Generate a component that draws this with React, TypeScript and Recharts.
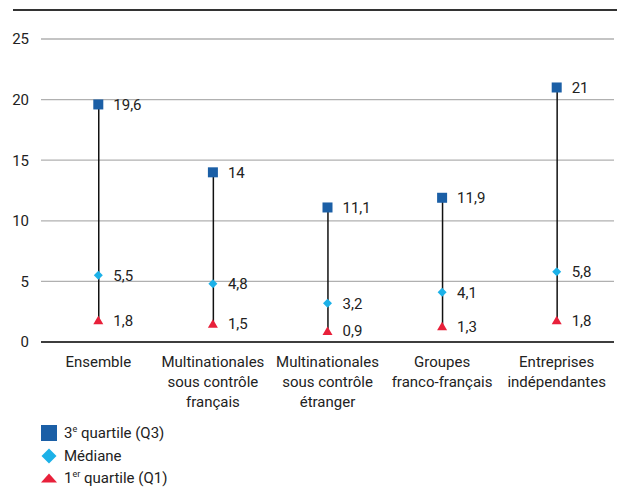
import React from 'react';
import { ComposedChart, Bar, Line, XAxis, YAxis, CartesianGrid, LabelList } from 'recharts';

const categories = [
  'Ensemble',
  'Multinationales\nsous contrôle\nfrançais',
  'Multinationales\nsous contrôle\nétranger',
  'Groupes\nfranco-français',
  'Entreprises\nindépendantes',
];
const q3Values = [19.6, 14, 11.1, 11.9, 21];
const medianValues = [5.5, 4.8, 3.2, 4.1, 5.8];
const q1Values = [1.8, 1.5, 0.9, 1.3, 1.8];
const yTicks = [0, 5, 10, 15, 20, 25];

const FONT = 'Roboto, "Liberation Sans", sans-serif';
const TEXT = '#222';
const Q3_COLOR = '#1b5fa6';
const MED_COLOR = '#1cb1e8';
const Q1_COLOR = '#e8203a';

const data = categories.map((name, i) => ({
  name,
  q3: q3Values[i],
  med: medianValues[i],
  q1: q1Values[i],
  range: [q1Values[i], q3Values[i]],
}));

const fmt = (v: any) => String(v).replace('.', ',');

function CategoryTick({ x, y, payload }: any) {
  const lines = String(payload.value).split('\n');
  return (
    <text x={x} y={y} textAnchor="middle" fill={TEXT} fontSize={15} fontFamily={FONT}>
      {lines.map((l, i) => (
        <tspan key={i} x={x} dy={i === 0 ? 25 : 20}>{l}</tspan>
      ))}
    </text>
  );
}

const square = (p: any) => (
  <rect key={`sq-${p.index}`} x={p.cx - 5} y={p.cy - 5} width={10} height={10} fill={Q3_COLOR} />
);
const diamond = (p: any) => (
  <path key={`di-${p.index}`} d={`M${p.cx},${p.cy - 4.5} L${p.cx + 4.5},${p.cy} L${p.cx},${p.cy + 4.5} L${p.cx - 4.5},${p.cy} Z`} fill={MED_COLOR} />
);
const triangle = (p: any) => (
  <path key={`tr-${p.index}`} d={`M${p.cx},${p.cy - 4.5} L${p.cx + 5},${p.cy + 4} L${p.cx - 5},${p.cy + 4} Z`} fill={Q1_COLOR} />
);

const labelStyle = { fill: TEXT, fontSize: 15, fontFamily: FONT };

function LegendRow({ marker, children }: { marker: React.ReactNode; children: React.ReactNode }) {
  return (
    <div style={{ display: 'flex', alignItems: 'center', height: 22.5 }}>
      <svg width={16} height={16} style={{ marginRight: 7 }}>{marker}</svg>
      <span>{children}</span>
    </div>
  );
}

export default function App() {
  return (
    <div style={{ position: 'absolute', left: 0, top: 0, width: 617, height: 489, background: '#fff', fontFamily: FONT, color: TEXT }}>
      <div style={{ position: 'absolute', left: 13, top: 9, width: 604, height: 2, background: '#333' }} />
      <div style={{ position: 'absolute', left: 0, top: 0 }}>
        <ComposedChart width={617} height={410} data={data} margin={{ top: 39, right: 3, bottom: 0, left: 0 }}>
          <CartesianGrid horizontal vertical={false} stroke="#b0b0b0" strokeWidth={1.3} />
          <XAxis
            dataKey="name"
            interval={0}
            height={68}
            tickLine={false}
            tickSize={0}
            tickMargin={0}
            axisLine={{ stroke: '#111', strokeWidth: 1.5 }}
            tick={<CategoryTick />}
          />
          <YAxis
            domain={[0, 25]}
            ticks={yTicks}
            width={41}
            axisLine={false}
            tickLine={false}
            tickSize={0}
            tickMargin={12}
            tick={{ fill: TEXT, fontSize: 15, fontFamily: FONT }}
          />
          <Bar dataKey="range" barSize={1.5} fill="#111" isAnimationActive={false} />
          <Line dataKey="q1" stroke="none" dot={triangle} activeDot={false} isAnimationActive={false}>
            <LabelList dataKey="q1" position="right" offset={15} formatter={fmt} style={labelStyle} />
          </Line>
          <Line dataKey="med" stroke="none" dot={diamond} activeDot={false} isAnimationActive={false}>
            <LabelList dataKey="med" position="right" offset={15} formatter={fmt} style={labelStyle} />
          </Line>
          <Line dataKey="q3" stroke="none" dot={square} activeDot={false} isAnimationActive={false}>
            <LabelList dataKey="q3" position="right" offset={15} formatter={fmt} style={labelStyle} />
          </Line>
        </ComposedChart>
      </div>
      <div style={{ position: 'absolute', left: 41, top: 422, fontSize: 15 }}>
        <LegendRow marker={<rect x={0} y={0} width={16} height={16} fill={Q3_COLOR} />}>
          3<span style={{ fontSize: 9, verticalAlign: 'super', lineHeight: 0 }}>e</span> quartile (Q3)
        </LegendRow>
        <LegendRow marker={<path d="M8,0.5 L15.5,8 L8,15.5 L0.5,8 Z" fill={MED_COLOR} />}>Médiane</LegendRow>
        <LegendRow marker={<path d="M8,3.5 L16,12.5 L0,12.5 Z" fill={Q1_COLOR} />}>
          1<span style={{ fontSize: 9, verticalAlign: 'super', lineHeight: 0 }}>er</span> quartile (Q1)
        </LegendRow>
      </div>
    </div>
  );
}
